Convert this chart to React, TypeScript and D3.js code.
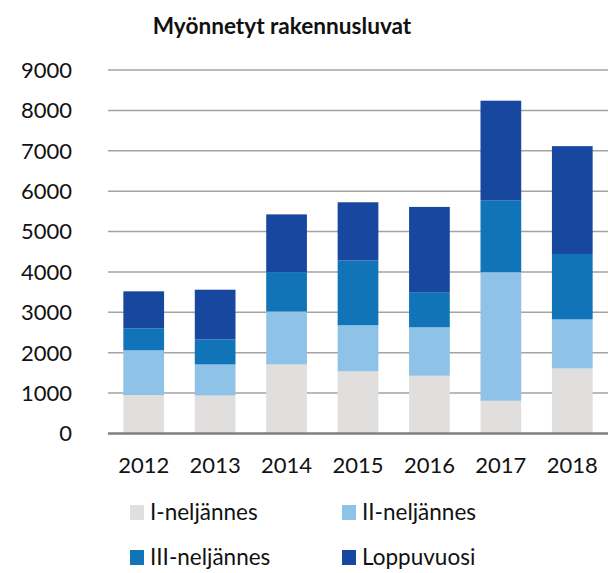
import { useEffect, useRef } from 'react';
import * as d3 from 'd3';

const years = ['2012', '2013', '2014', '2015', '2016', '2017', '2018'];
const seriesNames = ['I-neljännes', 'II-neljännes', 'III-neljännes', 'Loppuvuosi'];
const q1 = [950, 940, 1710, 1540, 1430, 810, 1610];
const q2 = [1110, 770, 1310, 1140, 1200, 3185, 1215];
const q3 = [545, 620, 975, 1605, 870, 1780, 1620];
const q4 = [915, 1230, 1430, 1440, 2110, 2465, 2670];
const yTicks = [0, 1000, 2000, 3000, 4000, 5000, 6000, 7000, 8000, 9000];
const colors = ['#e0dfde', '#8ec2e6', '#1174b9', '#17479e'];

export default function App() {
  const svgRef = useRef<SVGSVGElement>(null);

  useEffect(() => {
    if (!svgRef.current) return;
    const svg = d3.select(svgRef.current);
    svg.selectAll('*').remove();

    const width = 608;
    const height = 573;
    const margin = { top: 70, right: 0, bottom: 140, left: 108 };
    const font = 'Lato, "Open Sans", sans-serif';

    const rows = years.map((y, i) => ({ year: y, s0: q1[i], s1: q2[i], s2: q3[i], s3: q4[i] }));
    const stacked = d3.stack<any>().keys(['s0', 's1', 's2', 's3'])(rows);

    const x = d3.scaleBand()
      .domain(years)
      .range([margin.left, width - margin.right])
      .paddingInner(0.43)
      .paddingOuter(0.215);

    const y = d3.scaleLinear()
      .domain([0, 9000])
      .range([height - margin.bottom + 0.5, margin.top]);

    // title
    svg.append('text')
      .attr('x', 282)
      .attr('y', 34)
      .attr('text-anchor', 'middle')
      .attr('font-family', font)
      .attr('font-weight', 'bold')
      .attr('font-size', 22.6)
      .attr('fill', '#111')
      .text('Myönnetyt rakennusluvat');

    // gridlines
    svg.append('g')
      .selectAll('line')
      .data(yTicks.filter(t => t > 0))
      .enter().append('line')
      .attr('x1', margin.left)
      .attr('x2', width - margin.right)
      .attr('y1', d => y(d))
      .attr('y2', d => y(d))
      .attr('stroke', '#a3a3a3')
      .attr('stroke-width', 1.5);

    // y labels
    svg.append('g')
      .selectAll('text')
      .data(yTicks)
      .enter().append('text')
      .attr('x', 72)
      .attr('y', d => y(d))
      .attr('dy', '0.36em')
      .attr('text-anchor', 'end')
      .attr('font-family', font)
      .attr('font-size', 22)
      .attr('fill', '#111')
      .text(d => String(d));

    // bars
    svg.append('g')
      .selectAll('g')
      .data(stacked)
      .enter().append('g')
      .attr('fill', (_, i) => colors[i])
      .selectAll('rect')
      .data(d => d)
      .enter().append('rect')
      .attr('x', d => x(d.data.year) as number)
      .attr('width', x.bandwidth())
      .attr('y', d => y(d[1]))
      .attr('height', d => y(d[0]) - y(d[1]));

    // x axis line
    svg.append('line')
      .attr('x1', margin.left)
      .attr('x2', width - margin.right)
      .attr('y1', y(0))
      .attr('y2', y(0))
      .attr('stroke', '#7f7f7f')
      .attr('stroke-width', 2.5);

    // x labels
    svg.append('g')
      .selectAll('text')
      .data(years)
      .enter().append('text')
      .attr('x', d => (x(d) as number) + x.bandwidth() / 2)
      .attr('y', 473)
      .attr('text-anchor', 'middle')
      .attr('font-family', font)
      .attr('font-size', 22)
      .attr('fill', '#111')
      .text(d => d);

    // legend
    const legendPos = [
      { x: 130, y: 520 },
      { x: 342, y: 520 },
      { x: 130, y: 565 },
      { x: 342, y: 565 },
    ];
    const lg = svg.append('g')
      .selectAll('g')
      .data(seriesNames)
      .enter().append('g')
      .attr('transform', (_, i) => `translate(${legendPos[i].x},${legendPos[i].y})`);
    lg.append('rect')
      .attr('x', 0)
      .attr('y', -15)
      .attr('width', 14)
      .attr('height', 15)
      .attr('fill', (_, i) => colors[i]);
    lg.append('text')
      .attr('x', 20)
      .attr('y', 0)
      .attr('font-family', font)
      .attr('font-size', 22.5)
      .attr('fill', '#111')
      .text(d => d);
  }, []);

  return (
    <svg
      ref={svgRef}
      width={608}
      height={573}
      style={{ position: 'absolute', left: 0, top: 0, background: '#fff' }}
    />
  );
}
